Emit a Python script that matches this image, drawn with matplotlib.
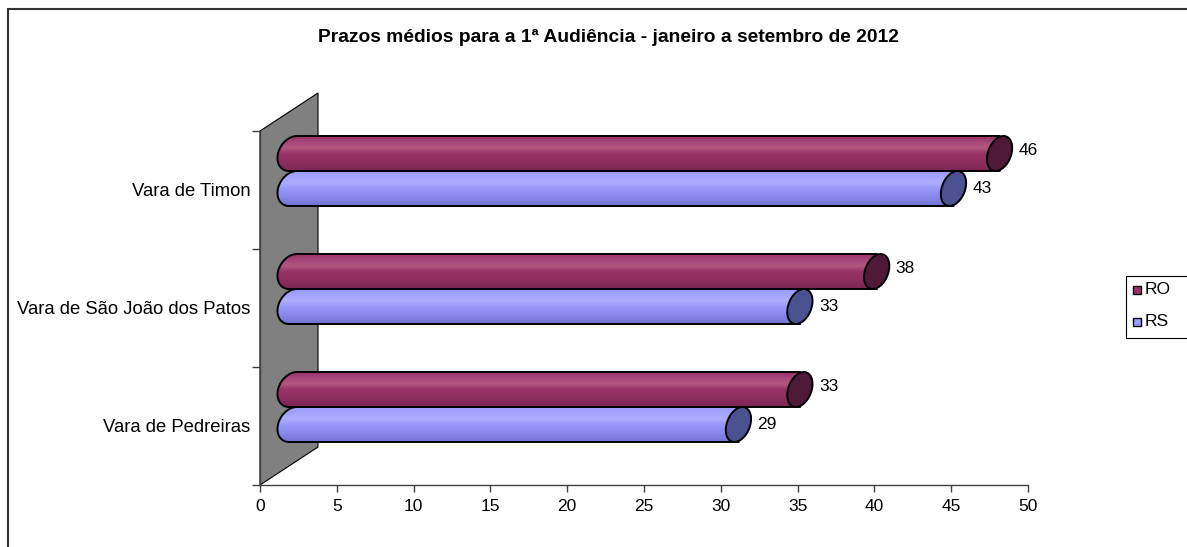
import numpy as np
import matplotlib
matplotlib.use("Agg")
import matplotlib.pyplot as plt
from matplotlib.patches import Polygon, Rectangle
from matplotlib.colors import to_rgb

# ---------------- data ----------------
categories = ["Vara de Pedreiras", "Vara de São João dos Patos", "Vara de Timon"]
ro_values = [33, 38, 46]
rs_values = [29, 33, 43]
series_names = ["RO", "RS"]
title = "Prazos médios para a 1ª Audiência - janeiro a setembro de 2012"
xticks = list(range(0, 51, 5))

# ---------------- style ----------------
W, H = 1187, 547
plt.rcParams['font.family'] = ['Liberation Sans', 'DejaVu Sans']
fig = plt.figure(figsize=(W / 100, H / 100), dpi=100)
fig.patch.set_facecolor("white")

ax_l, ax_r, ax_t, ax_b = 260, 1028, 131, 485
ax = fig.add_axes([ax_l / W, 1 - ax_b / H, (ax_r - ax_l) / W, (ax_b - ax_t) / H])
ax.set_facecolor("none")

px_x = (ax_r - ax_l) / 50.0      # pixels per x unit
px_y = (ax_b - ax_t) / 3.0       # pixels per y unit

# 3D depth offsets (in data units)
wall_dx, wall_dy = 58 / px_x, 38 / px_y
bar_dx, bar_dy = 33 / px_x, 19 / px_y
half_h = 17.5 / px_y
cap_a = 12 / px_x
left_a = 15 / px_x
skew = 4 / px_x

# back wall
wall = Polygon([(0, -0.5), (0, 2.5), (wall_dx, 2.5 + wall_dy), (wall_dx, -0.5 + wall_dy)],
               closed=True, facecolor="#808080", edgecolor="black", lw=0.8,
               clip_on=False, zorder=1)
ax.add_patch(wall)

colors = {
    "RO": dict(stops=["#9a3667", "#a7467a", "#b2577f", "#983466", "#923162", "#872b5b", "#7b2552"],
               cap="#4f1a38"),
    "RS": dict(stops=["#9c9cff", "#a4a4ff", "#adadff", "#9898fa", "#8e8ef0", "#8282e2", "#7272d0"],
               cap="#4c5190"),
}


def ellipse_pts(cx, cy, a, b, t0, t1, n=60):
    t = np.linspace(t0, t1, n)
    return np.column_stack([cx + a * np.cos(t) + skew * np.sin(t), cy + b * np.sin(t)])


def draw_bar(value, yc, name):
    x0 = bar_dx
    x1 = value + bar_dx
    c = colors[name]
    left = ellipse_pts(x0, yc, left_a, half_h, np.pi / 2, 3 * np.pi / 2)
    body_pts = np.vstack([left, [[x1, yc - half_h]], [[x1, yc + half_h]]])
    body = Polygon(body_pts, closed=True, facecolor="none", edgecolor="black",
                   lw=1.4, clip_on=False, zorder=3)
    ax.add_patch(body)
    stops = np.array([to_rgb(s) for s in c["stops"]])
    n = 40
    pos = np.linspace(0, 1, len(stops))
    tt = np.linspace(0, 1, n)
    grad = np.column_stack([np.interp(tt, pos, stops[:, k]) for k in range(3)])
    img = ax.imshow(grad[:, None, :], extent=[x0 - left_a - 0.5, x1 + 0.2, yc - half_h, yc + half_h],
                    origin="upper", aspect="auto", zorder=2, interpolation="bilinear")
    img.set_clip_path(body)
    cap = Polygon(ellipse_pts(x1, yc, cap_a, half_h, 0, 2 * np.pi), closed=True,
                  facecolor=c["cap"], edgecolor="black", lw=1.4, clip_on=False, zorder=4)
    ax.add_patch(cap)


for i in range(len(categories)):
    yc_group = i + bar_dy
    draw_bar(ro_values[i], yc_group + half_h, "RO")
    draw_bar(rs_values[i], yc_group - half_h, "RS")
    ax.text(ro_values[i] + bar_dx + cap_a + 7 / px_x, yc_group + half_h + 3 / px_y,
            str(ro_values[i]), ha="left", va="center", fontsize=12.5, zorder=5)
    ax.text(rs_values[i] + bar_dx + cap_a + 7 / px_x, yc_group - half_h,
            str(rs_values[i]), ha="left", va="center", fontsize=12.5, zorder=5)

ax.set_xlim(0, 50)
ax.set_ylim(-0.5, 2.5)

for s in ["top", "right"]:
    ax.spines[s].set_visible(False)
for s in ["left", "bottom"]:
    ax.spines[s].set_color("#404040")
    ax.spines[s].set_linewidth(1.0)
    ax.spines[s].set_zorder(1.5)
ax.set_xticks(xticks)
ax.set_xticklabels([str(t) for t in xticks], fontsize=12.5)
ax.tick_params(axis="x", direction="out", length=5, width=1, color="#404040", pad=5)
ax.set_yticks([-0.5, 0.5, 1.5, 2.5])
ax.set_yticklabels([])
ax.tick_params(axis="y", which="major", direction="out", length=6, width=1, color="#404040")
ax.set_yticks([0, 1, 2], minor=True)
ax.set_yticklabels(categories, minor=True, fontsize=13.3)
ax.tick_params(axis="y", which="minor", length=0, pad=7)

fig.text(608 / W, 1 - 37 / H, title, ha="center", va="center", fontsize=13.9, fontweight="bold")

fig.patches.append(Rectangle((8 / W, -0.2), 1.5, 1.2 - 9 / H, transform=fig.transFigure,
                             fill=False, edgecolor="#333333", lw=1.5))

fig.patches.append(Rectangle((1126 / W, 1 - 338 / H), 200 / W, 62 / H, transform=fig.transFigure,
                             fill=False, edgecolor="black", lw=0.8))
leg_y = [290, 322]
leg_col = ["#993366", "#9999FF"]
for name, yy, col in zip(series_names, leg_y, leg_col):
    fig.patches.append(Rectangle((1133 / W, 1 - (yy + 4) / H), 8 / W, 8 / H, transform=fig.transFigure,
                                 facecolor=col, edgecolor="black", lw=1.0))
    fig.text(1145 / W, 1 - yy / H, name, ha="left", va="center", fontsize=12.5)

fig.savefig("out.png", dpi=100)
